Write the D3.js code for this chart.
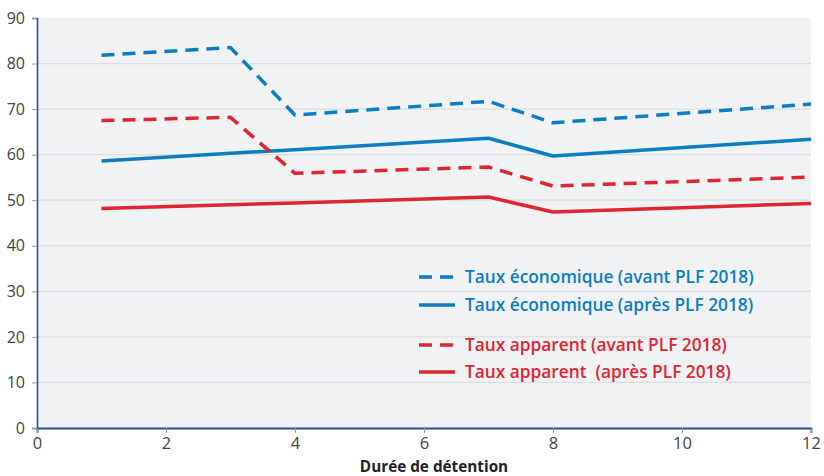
<!DOCTYPE html>
<html><head><meta charset="utf-8">
<script src="https://cdn.jsdelivr.net/npm/d3@7"></script>
<style>body{margin:0;background:#fff;} svg{display:block;}</style>
</head><body>
<svg id="c" width="824" height="476"></svg>
<script>
const durations = [1, 3, 4, 7, 8, 12];
const ecoAvant = [81.8, 83.5, 68.7, 71.7, 67.0, 71.1];
const ecoApres = [58.6, 60.3, 61.1, 63.6, 59.7, 63.4];
const appAvant = [67.5, 68.2, 55.9, 57.3, 53.1, 55.1];
const appApres = [48.2, 49.0, 49.4, 50.7, 47.4, 49.3];
const xTicks = [0, 2, 4, 6, 8, 10, 12];
const yTicks = [0, 10, 20, 30, 40, 50, 60, 70, 80, 90];
const seriesNames = ["Taux économique (avant PLF 2018)", "Taux économique (après PLF 2018)", "Taux apparent (avant PLF 2018)", "Taux apparent  (après PLF 2018)"];
const xTitle = "Durée de détention";

const blue = "#0b7ec2", red = "#de2530";
const series = [
  {name: seriesNames[0], values: ecoAvant, color: blue, dash: "13,8"},
  {name: seriesNames[1], values: ecoApres, color: blue, dash: null},
  {name: seriesNames[2], values: appAvant, color: red, dash: "13,8"},
  {name: seriesNames[3], values: appApres, color: red, dash: null}
];

const svg = d3.select("#c");
const L = 37, R = 811, T = 18, B = 428;
const x = d3.scaleLinear().domain([0, 12]).range([L, R]);
const y = d3.scaleLinear().domain([0, 90]).range([B, T]);

svg.append("rect").attr("x", L).attr("y", T).attr("width", R - L).attr("height", B - T).attr("fill", "#f1f2f4");

// gridlines
svg.append("g").selectAll("line").data(yTicks.filter(d => d > 0 && d < 90)).join("line")
  .attr("x1", L).attr("x2", R).attr("y1", d => y(d)).attr("y2", d => y(d))
  .attr("stroke", "#dcdde0").attr("stroke-width", 1.3);

// y axis
const yAxis = svg.append("g").attr("transform", `translate(${L},0)`)
  .call(d3.axisLeft(y).tickValues(yTicks).tickSize(5).tickPadding(7));
yAxis.select(".domain").attr("stroke", "#2b4ea2").attr("stroke-width", 1.6);
yAxis.selectAll(".tick line").attr("stroke", "#999");
yAxis.selectAll("text").attr("font-family", "'Open Sans', sans-serif").attr("font-size", 16).attr("fill", "#444");

// x axis
const xAxis = svg.append("g").attr("transform", `translate(0,${B})`)
  .call(d3.axisBottom(x).tickValues(xTicks).tickSize(5).tickPadding(4));
xAxis.select(".domain").attr("stroke", "#2b4ea2").attr("stroke-width", 1.8);
xAxis.selectAll(".tick line").attr("stroke", "#999");
xAxis.selectAll("text").attr("font-family", "'Liberation Sans Narrow', 'Open Sans', sans-serif").attr("font-size", 16.5).attr("fill", "#444");

svg.append("text").attr("x", 434).attr("y", 472).attr("text-anchor", "middle")
  .attr("font-family", "'Liberation Sans Narrow', 'Open Sans', sans-serif").attr("font-weight", "bold")
  .attr("font-size", 15.3).attr("fill", "#222").text(xTitle);

const line = d3.line().x((d, i) => x(durations[i])).y(d => y(d));
svg.append("g").selectAll("path").data(series).join("path")
  .attr("d", d => line(d.values)).attr("fill", "none")
  .attr("stroke", d => d.color).attr("stroke-width", 3.5)
  .attr("stroke-dasharray", d => d.dash).attr("stroke-linejoin", "round");

// legend
const legY = [277, 305, 345, 372];
const leg = svg.append("g").selectAll("g").data(series).join("g")
  .attr("transform", (d, i) => `translate(0,${legY[i]})`);
leg.append("line").attr("x1", 419).attr("x2", 455).attr("y1", 0).attr("y2", 0)
  .attr("stroke", d => d.color).attr("stroke-width", 3.5).attr("stroke-dasharray", d => d.dash);
leg.append("text").attr("x", 465).attr("y", 0).attr("dy", "0.35em")
  .attr("font-family", "'Open Sans', sans-serif").attr("font-weight", 600).attr("font-size", 17.3)
  .attr("fill", d => d.color).style("white-space", "pre").text(d => d.name);
</script>
</body></html>
